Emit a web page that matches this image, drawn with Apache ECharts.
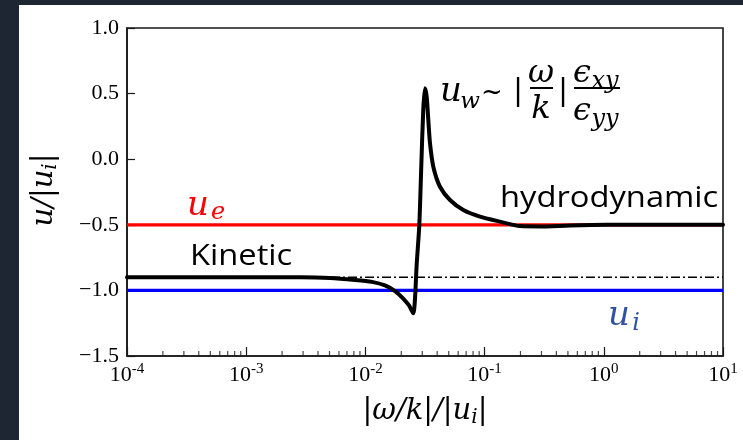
<!DOCTYPE html>
<html>
<head>
<meta charset="utf-8">
<script src="https://cdn.jsdelivr.net/npm/echarts@6/dist/echarts.min.js"></script>
<style>
  html, body { margin: 0; padding: 0; background: #1e2533; }
  #paper { position: absolute; left: 19px; top: 5px; width: 724px; height: 435px; background: #ffffff; }
  #chart { position: absolute; left: 0; top: 0; width: 743px; height: 440px; }
</style>
</head>
<body>
<div id="paper"></div>
<div id="chart"></div>
<script>
// Wave drift speed u/|u_i| against phase speed |omega/k|/|u_i|
const kineticX = [1e-4, 3e-4, 1e-3, 2.827e-3, 5.047e-3, 8.178e-3, 0.01136, 0.0146, 0.01771, 0.02067, 0.02321, 0.0252,
  0.0260, 0.02694, 0.02833, 0.02944, 0.03059, 0.03162, 0.03267, 0.03371, 0.03483, 0.03712,
  0.04225, 0.05126, 0.06628, 0.0915, 0.1346, 0.198, 0.2915, 0.52, 1.05, 3, 10];
const kineticY = [-0.9, -0.9, -0.9, -0.9, -0.905, -0.92, -0.935, -0.962, -1.005, -1.06, -1.115, -1.175,
  -1.08, -0.8, -0.502, -0.05, 0.38, 0.54, 0.476, 0.299, 0.121, -0.057,
  -0.21, -0.311, -0.387, -0.438, -0.476, -0.51, -0.513, -0.505, -0.5, -0.5, -0.5];

const electronLevel = -0.5;   // u_e
const ionLevel = -1.0;        // u_i
const kineticLevel = -0.9;    // low-frequency kinetic limit

const xRange = [1e-4, 10];
const yTicks = [-1.5, -1.0, -0.5, 0.0, 0.5, 1.0];
const minorTickValues = [];
for (let e = -4; e <= 0; e++) {
  for (let k = 2; k <= 9; k++) minorTickValues.push(+(k * Math.pow(10, e)).toPrecision(3));
}

const serif = '"Liberation Serif", serif';
const mathFont = '"DejaVu Serif", serif';
const sans = '"Open Sans", Lato, sans-serif';
const axisColor = '#1a1a1a';

const chart = echarts.init(document.getElementById('chart'), null, { renderer: 'canvas' });

const flat = (level) => xRange.map(x => [x, level]);

// one math text element, centred on (x, y)
const mtext = (x, y, text, size, color, extra) => ({
  type: 'text', x: x, y: y, z: 100,
  style: Object.assign({ text: text, fontFamily: mathFont, fontStyle: 'italic', fontSize: size,
    fill: color, align: 'center', verticalAlign: 'middle' }, extra || {})
});
const rule = (x1, x2, y) => ({ type: 'line', z: 100, shape: { x1: x1, y1: y, x2: x2, y2: y }, style: { stroke: '#000', lineWidth: 2 } });
const word = (x, y, text) => ({ type: 'text', x: x, y: y, z: 100, scaleX: 1.09,
  style: { text: text, fontFamily: sans, fontSize: 30, fill: '#000', verticalAlign: 'middle' } });

// a row of italic serif pieces laid out left to right, centred on (cx, cy)
const measureCtx = document.createElement('canvas').getContext('2d');
function mathRow(cx, cy, parts, rotation) {
  const widths = parts.map(p => {
    measureCtx.font = 'italic ' + p.size + 'px ' + mathFont;
    return measureCtx.measureText(p.text).width;
  });
  let x = -widths.reduce((a, b) => a + b, 0) / 2;
  const children = parts.map((p, i) => {
    const el = { type: 'text', x: x, y: p.dy || 0,
      style: { text: p.text, fontFamily: mathFont, fontStyle: 'italic', fontSize: p.size, fill: '#000', align: 'left', verticalAlign: 'middle' } };
    x += widths[i];
    return el;
  });
  return { type: 'group', x: cx, y: cy, rotation: rotation || 0, z: 100, children: children };
}

chart.setOption({
  backgroundColor: 'transparent',
  animation: false,
  grid: { left: 127, top: 28, right: 20, bottom: 84, show: true, borderColor: axisColor, borderWidth: 1.6, backgroundColor: 'transparent' },
  xAxis: {
    type: 'log', logBase: 10, min: xRange[0], max: xRange[1],
    axisLine: { show: true, onZero: false, lineStyle: { color: axisColor, width: 1.6 } },
    axisTick: { show: true, inside: true, length: 9, lineStyle: { color: axisColor, width: 1.2 } },
    splitLine: { show: false },
    axisLabel: {
      margin: 6,
      formatter: (v) => '{b|10}{s|' + Math.round(Math.log10(v)) + '}',
      rich: {
        b: { fontFamily: serif, fontSize: 22, color: '#000' },
        s: { fontFamily: serif, fontSize: 15, color: '#000', padding: [0, 0, 12, 0] }
      }
    }
  },
  yAxis: {
    type: 'value', min: yTicks[0], max: yTicks[yTicks.length - 1], interval: 0.5,
    axisLine: { show: true, onZero: false, lineStyle: { color: axisColor, width: 1.6 } },
    axisTick: { show: true, inside: true, length: 8, lineStyle: { color: axisColor, width: 1.2 } },
    splitLine: { show: false },
    axisLabel: {
      margin: 8, fontFamily: serif, fontSize: 22, color: '#000',
      formatter: (v) => v.toFixed(1).replace('-', '\u2212')
    }
  },
  series: [
    { name: 'minor ticks', type: 'scatter', silent: true, z: 5, clip: false,
      data: minorTickValues.map(v => [v, yTicks[0]]),
      symbol: 'rect', symbolSize: [1.2, 5], symbolOffset: [0, -2.5],
      itemStyle: { color: axisColor } },
    { name: 'kinetic limit', type: 'line', data: flat(kineticLevel), showSymbol: false, silent: true, z: 2,
      lineStyle: { color: '#000', width: 1.4, type: [9, 3, 2, 3] } },
    { name: 'u_e', type: 'line', data: flat(electronLevel), showSymbol: false, silent: true, z: 3,
      lineStyle: { color: '#ff0000', width: 3.2 } },
    { name: 'u_i', type: 'line', data: flat(ionLevel), showSymbol: false, silent: true, z: 3,
      lineStyle: { color: '#0000ff', width: 3.2 } },
    { name: 'u_w', type: 'line', data: kineticX.map((x, i) => [x, kineticY[i]]), showSymbol: false, silent: true, z: 4,
      smooth: 0.25, lineStyle: { color: '#000', width: 4, join: 'round', cap: 'round' } }
  ],
  graphic: [
    mathRow(425, 411, [{ text: '|ω/k|/|u', size: 29 }, { text: 'i', size: 20, dy: 7 }, { text: '|', size: 29 }]),
    mathRow(44, 190, [{ text: 'u/|u', size: 29 }, { text: 'i', size: 20, dy: 7 }, { text: '|', size: 29 }], Math.PI / 2),
    mtext(198, 206, 'u', 34, '#ff0000'),
    mtext(218, 213, 'e', 24, '#ff0000'),
    word(190, 256, 'Kinetic'),
    word(500, 198, 'hydrodynamic'),
    mtext(619, 316, 'u', 34, '#2f52a3'),
    mtext(636, 324, 'i', 24, '#2f52a3'),
    // u_w ~ |omega/k| eps_xy / eps_yy
    mtext(451, 92, 'u', 34, '#000'),
    mtext(470, 102, 'w', 23, '#000'),
    mtext(492, 93, '~', 26, '#000', { fontStyle: 'normal' }),
    mtext(518, 92, '|', 30, '#000', { fontStyle: 'normal' }),
    mtext(541, 74, 'ω', 32, '#000'),
    rule(530, 553, 88),
    mtext(541, 110, 'k', 32, '#000'),
    mtext(563, 92, '|', 30, '#000', { fontStyle: 'normal' }),
    mtext(582, 74, 'ϵ', 32, '#000'),
    mtext(605, 82, 'xy', 24, '#000'),
    rule(574, 620, 88),
    mtext(582, 112, 'ϵ', 32, '#000'),
    mtext(605, 120, 'yy', 24, '#000')
  ]
});
</script>
</body>
</html>
